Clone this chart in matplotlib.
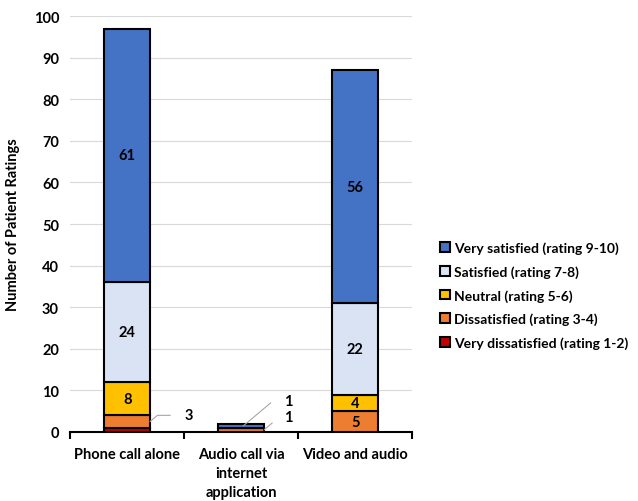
import matplotlib.pyplot as plt
import numpy as np

plt.rcParams['font.family'] = ['Lato', 'DejaVu Sans']
plt.rcParams['font.weight'] = 'bold'

categories = ['Phone call alone', 'Audio call via\ninternet\napplication', 'Video and audio']
levels = ['Very dissatisfied (rating 1-2)', 'Dissatisfied (rating 3-4)',
          'Neutral (rating 5-6)', 'Satisfied (rating 7-8)', 'Very satisfied (rating 9-10)']
very_dissatisfied = [1, 0, 0]
dissatisfied = [3, 1, 5]
neutral = [8, 0, 4]
satisfied = [24, 0, 22]
very_satisfied = [61, 1, 56]
colors = ['#C00000', '#ED7D31', '#FFC000', '#DAE3F3', '#4472C4']

series = [very_dissatisfied, dissatisfied, neutral, satisfied, very_satisfied]

fig = plt.figure(figsize=(6.38, 5.02), dpi=100)
ax = fig.add_axes([0.11, 0.1375, 0.536, 0.8285])

x = np.arange(len(categories))
bottom = np.zeros(len(categories))
for vals, col, lab in zip(series, colors, levels):
    ax.bar(x, vals, width=0.4, bottom=bottom, color=col, edgecolor='black',
           linewidth=1.5, label=lab, zorder=3)
    bottom += np.array(vals)

# value labels inside the larger segments
for i, vals in enumerate(series):
    base = np.sum(series[:i], axis=0) if i else np.zeros(len(categories))
    for j, v in enumerate(vals):
        if v >= 4:
            ax.text(x[j], base[j] + v / 2, str(v), ha='center', va='center',
                    fontsize=10.5, fontweight='bold', zorder=4)

# small segments get labels with leader lines
callouts = [
    (0, 1, 3, (0.5, 4.0)),
    (1, 4, 1, (0.38, 7.5)),
    (1, 1, 1, (0.38, 3.6)),
]
for j, i, v, (dx, ty) in callouts:
    base = sum(s[j] for s in series[:i])
    ax.annotate(str(v), xy=(x[j] + 0.2 if i != 4 else x[j] + 0.02, base + v / 2),
                xytext=(x[j] + dx, ty), fontsize=10.5, fontweight='bold',
                ha='left', va='center',
                arrowprops=dict(arrowstyle='-', color='#A6A6A6', lw=0.8,
                                shrinkA=8, shrinkB=0,
                                connectionstyle='angle,angleA=0,angleB=40,rad=0'),
                zorder=4)

ax.set_xlim(-0.5, 2.5)
ax.set_ylim(0, 100)
ax.set_yticks(range(0, 101, 10))
ax.grid(axis='y', color='#D9D9D9', linewidth=0.8, zorder=0)
ax.set_xticks(x)
ax.set_xticklabels(categories, fontsize=10.5, fontweight='bold', va='top',
                   linespacing=1.45)
ax.set_xticks([-0.5, 0.5, 1.5, 2.5], minor=True)
ax.tick_params(axis='x', which='major', length=0, pad=11)
ax.tick_params(axis='x', which='minor', length=5, width=1.5, direction='out')
ax.tick_params(axis='y', length=0, labelsize=10.5, pad=8)
for lbl in ax.get_yticklabels():
    lbl.set_fontweight('bold')
for side in ['left', 'right', 'top']:
    ax.spines[side].set_visible(False)
ax.spines['bottom'].set_linewidth(1.5)
ax.set_ylabel('Number of Patient Ratings', fontsize=10.5, fontweight='bold', labelpad=10)

handles, labels = ax.get_legend_handles_labels()
fig.legend(handles[::-1], labels[::-1], loc='center left', bbox_to_anchor=(0.686, 0.41),
           frameon=False, fontsize=10, handlelength=0.7, handleheight=0.7,
           handletextpad=0.3, labelspacing=0.8, borderaxespad=0, borderpad=0.2)

fig.savefig('out.png', dpi=100)
